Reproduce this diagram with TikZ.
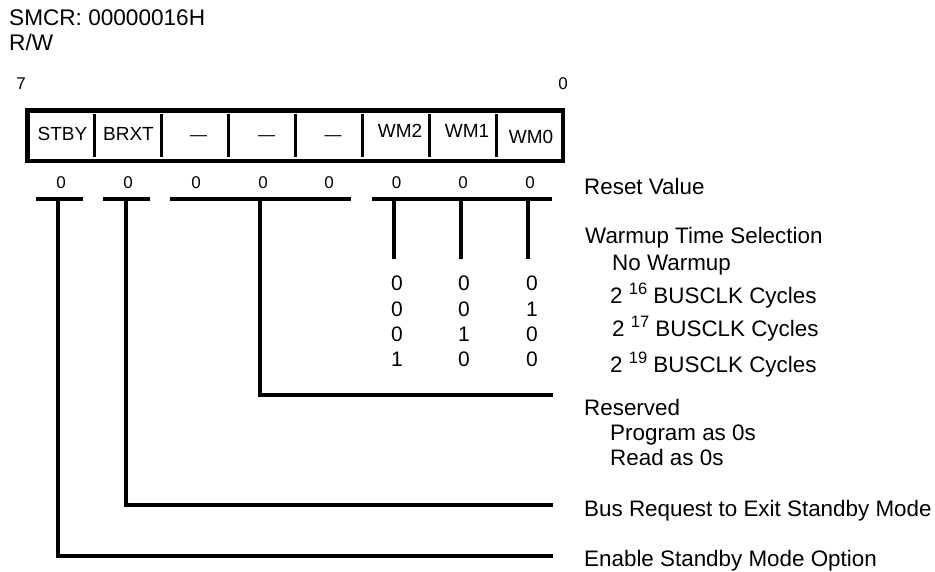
\documentclass[tikz,border=0pt]{standalone}
\usepackage{fontspec}
\setmainfont{Liberation Sans}
\newcommand\myexp[1]{\raisebox{8.5pt}{\fontsize{16.5}{16.5}\selectfont #1}}
\tikzset{
  ttl/.style={anchor=base west, inner sep=0pt, font=\fontsize{22.6}{26}\selectfont},
  desc/.style={anchor=base west, inner sep=0pt, font=\fontsize{22.4}{26}\selectfont},
  cell/.style={anchor=base, inner sep=0pt, font=\fontsize{19}{22}\selectfont},
  dashlbl/.style={anchor=base, inner sep=0pt, font=\fontsize{17}{20}\selectfont},
  rv/.style={anchor=base, inner sep=0pt, font=\fontsize{17}{20}\selectfont},
  bitn/.style={anchor=center, inner sep=0pt, font=\fontsize{17}{20}\selectfont},
  tbl/.style={anchor=center, inner sep=0pt, font=\fontsize{21}{24}\selectfont},
  regbox/.style={line width=4.5pt},
  divline/.style={line width=3pt},
  barline/.style={line width=3.5pt},
  lead/.style={line width=4pt, line join=miter}
}
\begin{document}
\begin{tikzpicture}[x=1pt,y=-1pt]
\useasboundingbox (0,0) rectangle (935,571);

% title
\node[ttl] (t1) at (9,25) {SMCR: 00000016H};
\node[ttl] (t2) at (9,50) {R/W};

% bit numbers
\node[bitn] (b7) at (21,84) {7};
\node[bitn] (b0) at (563,84) {0};

% register box
\draw[regbox] (27.5,110.5) rectangle (563,161);
\foreach \i/\xx in {1/94.4,2/161.4,3/228.3,4/295.3,5/362.2,6/429.1,7/496.1}{
  \draw[divline] (\xx,114) -- (\xx,157);
}

% cell labels
\node[cell] (f7) at (62.5,140) {STBY};
\node[cell] (f6) at (128.5,140) {BRXT};
\node[dashlbl] (f5) at (198.5,140) {—};
\node[dashlbl] (f4) at (266.5,140) {—};
\node[dashlbl] (f3) at (333,140) {—};
\node[cell] (f2) at (400,137) {WM2};
\node[cell] (f1) at (467,137) {WM1};
\node[cell] (f0) at (531,143) {WM0};

% reset values
\foreach \i/\xx in {7/61,6/128,5/196,4/263,3/329,2/396.5,1/463,0/530}{
  \node[rv] (r\i) at (\xx,188) {0};
}
\node[desc] (rst) at (584,194) {Reset Value};

% bars
\coordinate (bA1) at (36,199);  \coordinate (bA2) at (83,199);
\coordinate (bB1) at (103,199); \coordinate (bB2) at (150,199);
\coordinate (bC1) at (170,199); \coordinate (bC2) at (351,199);
\coordinate (bD1) at (372,199); \coordinate (bD2) at (552,199);
\draw[barline] (bA1) -- (bA2);
\draw[barline] (bB1) -- (bB2);
\draw[barline] (bC1) -- (bC2);
\draw[barline] (bD1) -- (bD2);

% WM leads
\foreach \n/\xx in {2/394,1/461,0/528}{
  \coordinate (w\n a) at (\xx,199);
  \coordinate (w\n b) at (\xx,259);
  \draw[lead] (w\n a) -- (w\n b);
}

% table
\foreach \r/\yy/\va/\vb/\vc in {1/283.5/0/0/0,2/309/0/0/1,3/334/0/1/0,4/359/1/0/0}{
  \node[tbl] (ta\r) at (397,\yy) {\va};
  \node[tbl] (tb\r) at (464,\yy) {\vb};
  \node[tbl] (tc\r) at (532,\yy) {\vc};
}

\node[desc] (wts) at (585,243) {Warmup Time Selection};
\node[desc] (nw) at (612,270) {No Warmup};
\node[desc] (c16) at (610,303) {2 \myexp{16} BUSCLK Cycles};
\node[desc] (c17) at (612,336) {2 \myexp{17} BUSCLK Cycles};
\node[desc] (c19) at (610,372) {2 \myexp{19} BUSCLK Cycles};

% reserved lead
\coordinate (rsA) at (260,199);
\coordinate (rsB) at (260,395);
\coordinate (rsE) at (553,395);
\draw[lead] (rsA) -- (rsB) -- (rsE);
\node[desc] (res) at (584,415) {Reserved};
\node[desc] (pg) at (610,440) {Program as 0s};
\node[desc] (rd) at (610,465) {Read as 0s};

% BRXT lead
\coordinate (b6A) at (125.5,199);
\coordinate (b6B) at (125.5,505);
\coordinate (b6E) at (553,505);
\draw[lead] (b6A) -- (b6B) -- (b6E);
\node[desc] (bus) at (584,516) {Bus Request to Exit Standby Mode};

% STBY lead
\coordinate (b7A) at (58,199);
\coordinate (b7B) at (58,555.5);
\coordinate (b7E) at (553,555.5);
\draw[lead] (b7A) -- (b7B) -- (b7E);
\node[desc] (en) at (584,566) {Enable Standby Mode Option};
\end{tikzpicture}
\end{document}
